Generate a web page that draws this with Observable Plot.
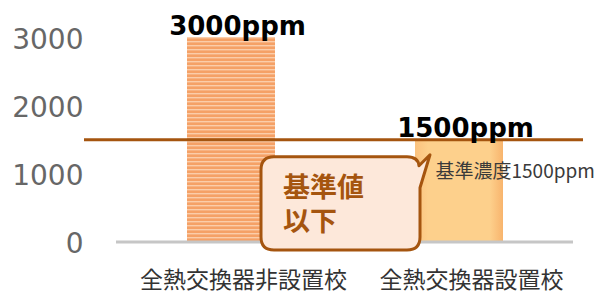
<!DOCTYPE html>
<html><head><meta charset="utf-8">
<script src="https://cdn.jsdelivr.net/npm/d3@7"></script>
<script src="https://cdn.jsdelivr.net/npm/@observablehq/plot@0.6"></script>
<style>body{margin:0;background:#fff} #chart svg{display:block}</style>
</head><body><div id="chart"></div>
<script>
const categories = ["全熱交換器非設置校", "全熱交換器設置校"];
const values = [3000, 1500];
const valueLabels = ["3000ppm", "1500ppm"];
const yTicks = [0, 1000, 2000, 3000];
const standard = 1500;
const standardLabel = "基準濃度1500ppm";
const calloutLines = ["基準値", "以下"];

const brown = "#a5550f";
const data = categories.map((c, i) => ({category: c, value: values[i], label: valueLabels[i]}));

const plot = Plot.plot({
  width: 610, height: 294,
  marginLeft: 116, marginRight: 37, marginTop: 37, marginBottom: 52.5,
  style: {background: "#fff", fontFamily: "DejaVu Sans, sans-serif", overflow: "visible"},
  x: {domain: categories, paddingInner: 0.616, paddingOuter: 0.306, axis: null},
  y: {domain: [0, 3000], axis: null},
  color: {type: "ordinal", domain: categories, range: ["url(#stripes)", "url(#grad2)"]},
  marks: [
    Plot.barY(data, {x: "category", y: "value", fill: "category"}),
    Plot.ruleY([0], {stroke: "#c6c6c6", strokeWidth: 3}),
    Plot.ruleY([standard], {stroke: brown, strokeWidth: 3.2, insetLeft: -32, insetRight: -10}),
    Plot.text(yTicks, {y: d => d, frameAnchor: "left", text: d => String(d), textAnchor: "end", dx: -33, dy: 2.5, fontSize: 28, fill: "#676767"}),
    Plot.text(categories, {x: d => d, frameAnchor: "bottom", text: d => d, lineAnchor: "bottom", dy: 45.5, dx: 12, fontSize: 23, fill: "#333", fontFamily: "Noto Sans CJK JP"}),
    Plot.text(data, {x: "category", y: "value", text: "label", lineAnchor: "bottom", dy: -3, dx: 6, fontSize: 26, fontWeight: "bold", fill: "#000"}),
    Plot.text([standardLabel], {x: () => categories[1], y: () => standard, text: d => d, textAnchor: "start", lineAnchor: "bottom", dx: -24, dy: 38.5, fontSize: 19, fill: "#3a3a3a", fontFamily: "Noto Sans CJK JP"})
  ]
});
document.getElementById("chart").appendChild(plot);

const svg = d3.select(plot);
const defs = svg.insert("defs", ":first-child");
const pat = defs.append("pattern").attr("id", "stripes").attr("patternUnits", "userSpaceOnUse").attr("width", 8).attr("height", 4);
pat.append("rect").attr("width", 8).attr("height", 4).attr("fill", "#f5a166");
pat.append("rect").attr("y", 1).attr("width", 8).attr("height", 1.4).attr("fill", "#fbcda9");
const g2 = defs.append("linearGradient").attr("id", "grad2").attr("x1", 0).attr("x2", 1).attr("y1", 0).attr("y2", 0);
[[0, "#fbc27e"], [0.15, "#fdd08c"], [0.85, "#fdd08c"], [1, "#f8b46d"]].forEach(([o, c]) => g2.append("stop").attr("offset", o).attr("stop-color", c));

// callout positioned from scales
const xs = plot.scale("x"), ys = plot.scale("y");
const bw = xs.bandwidth;
const c1 = xs.apply(categories[0]) + bw / 2, c2 = xs.apply(categories[1]) + bw / 2;
const x0 = c1 + 30, x1 = c2 - 39, y0 = ys.apply(standard) + 17.5, y1 = ys.apply(0) + 8.5, r = 13;
const tipX = x1 + 10, tipY = y0 - 2;
const path = `M${x0 + r},${y0} H${x1 - r} Q${x1 - 2},${y0} ${x1 - 1},${y0 + 9} L${tipX},${tipY} L${x1},${y0 + 31} V${y1 - r} Q${x1},${y1} ${x1 - r},${y1} H${x0 + r} Q${x0},${y1} ${x0},${y1 - r} V${y0 + r} Q${x0},${y0} ${x0 + r},${y0} Z`;
const cg = svg.append("g");
cg.append("path").attr("d", path).attr("fill", "#fde8da").attr("stroke", brown).attr("stroke-width", 3).attr("stroke-linejoin", "round");
calloutLines.forEach((t, i) => cg.append("text").attr("x", x0 + 22).attr("y", y0 + 40 + i * 34)
  .attr("text-anchor", "start")
  .attr("font-family", "Noto Sans CJK JP").attr("font-weight", "bold").attr("font-size", 27).attr("fill", brown).text(t));
svg.selectAll("g[aria-label='text']").raise();
</script></body></html>
